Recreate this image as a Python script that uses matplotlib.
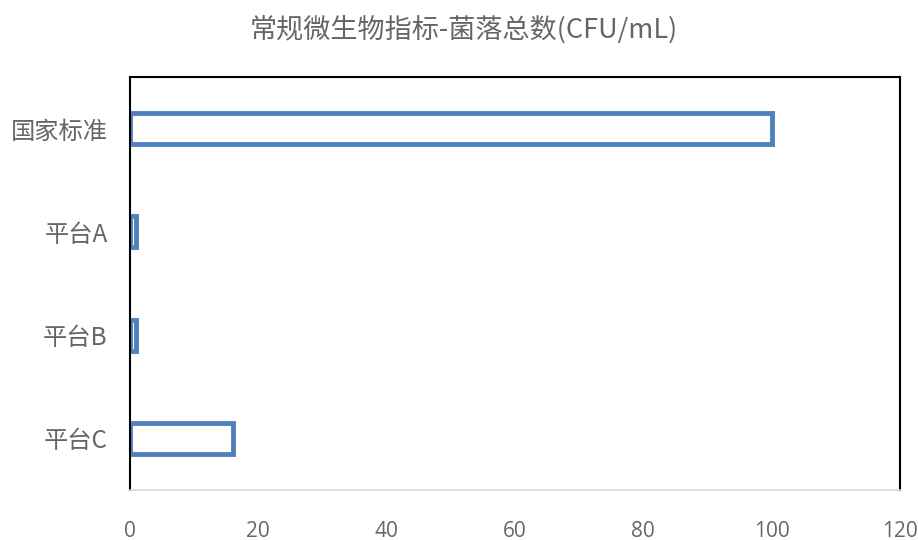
import matplotlib
matplotlib.use('Agg')
import matplotlib.pyplot as plt
import numpy as np

plt.rcParams['font.family'] = ['Noto Sans CJK SC', 'DejaVu Sans']

categories = ['国家标准', '平台A', '平台B', '平台C']
values = [100, 1, 1, 16]
xticks = [0, 20, 40, 60, 80, 100, 120]
title = '常规微生物指标-菌落总数(CFU/mL)'

fig = plt.figure(figsize=(9.18, 5.4), dpi=100)
ax = fig.add_axes([0.1416, 0.0926, 0.8388, 0.7648])

ypos = np.arange(len(categories))[::-1]
ax.barh(ypos, values, height=0.3, color='white', edgecolor='#4F81BD', linewidth=3.5)

ax.set_xlim(0, 120)
ax.set_ylim(-0.5, len(categories) - 0.5)
ax.set_xticks(xticks)
ax.set_yticks(ypos)
ax.set_yticklabels(categories, fontsize=17.5, fontweight='light')
ax.tick_params(axis='both', length=0, colors='#666666')
ax.tick_params(axis='x', labelsize=15, pad=22)
ax.tick_params(axis='y', pad=16)
for t in ax.get_xticklabels():
    t.set_family(['Open Sans', 'DejaVu Sans'])

for s in ['left', 'top', 'right']:
    ax.spines[s].set_color('black')
    ax.spines[s].set_linewidth(1.5)
ax.spines['bottom'].set_color('#D9D9D9')
ax.spines['bottom'].set_linewidth(1.2)

fig.text(0.505, 0.946, title, ha='center', va='center', fontsize=19.5,
         fontweight='light', color='#666666')

fig.savefig('out.png', dpi=100)
